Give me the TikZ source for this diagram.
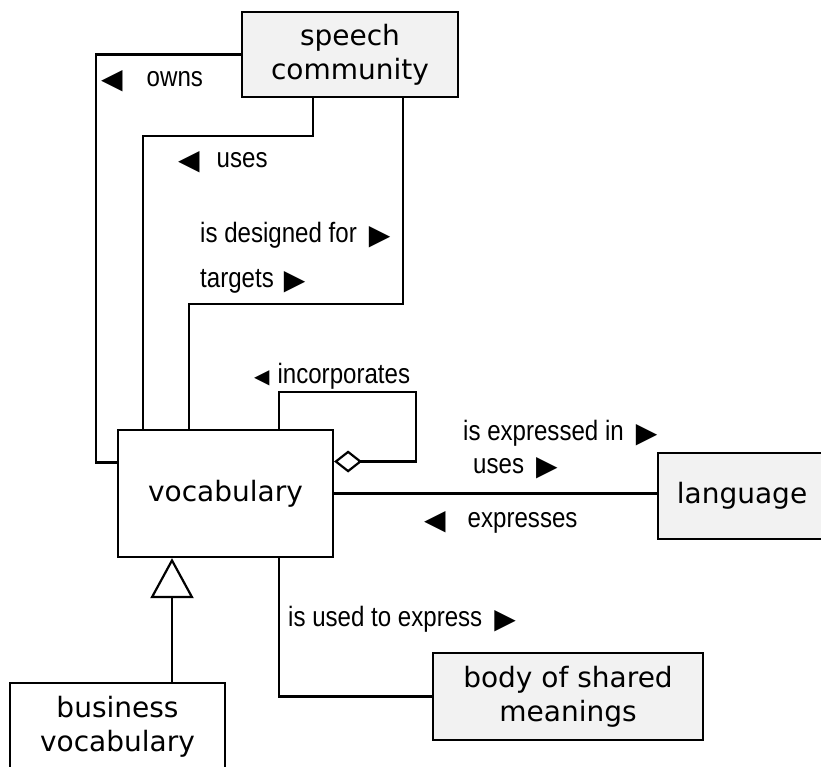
\documentclass[tikz,border=0pt]{standalone}
\usepackage{fontspec}
\setmainfont{DejaVu Sans}
\newfontfamily\rolefont[FakeStretch=0.86]{Liberation Sans}
\newfontfamily\ptrfont{DejaVu Sans}
\usetikzlibrary{arrows.meta}
\newcommand{\lpt}{\raisebox{-2pt}{\ptrfont\fontsize{28}{28}\selectfont\char"25C0}}
\newcommand{\rpt}{\raisebox{-2pt}{\ptrfont\fontsize{28}{28}\selectfont\char"25B6}}
\tikzset{
    classbox/.style={rectangle,draw,line width=2.2pt,fill=white,align=center,font=\fontsize{28}{34}\selectfont},
    sharedbox/.style={classbox,fill=black!5},
    assocline/.style={line width=2.2pt},
    aggrline/.style={assocline,-{Diamond[open,length=28pt,width=22pt]}},
    genline/.style={assocline,-{Triangle[open,length=40pt,width=43pt]}},
    rolelabel/.style={anchor=base west,inner sep=0pt,font=\rolefont\fontsize{28}{30}\selectfont}
}

\begin{document}
\begin{tikzpicture}[x=1pt,y=-1pt]
    \useasboundingbox (0,0) rectangle (821,766);
    % classes
    \node[sharedbox,minimum width=216pt,minimum height=85pt] (spc) at (350,54.5) {speech\\community};
    \node[classbox,minimum width=215pt,minimum height=127pt] (vocab) at (225.5,493.5) {vocabulary};
    \node[sharedbox,minimum width=168pt,minimum height=86pt] (lang) at (742,496) {language};
    \node[sharedbox,minimum width=270pt,minimum height=87pt] (body) at (568,696.5) {body of shared\\meanings};
    \node[classbox,minimum width=215pt,minimum height=88pt] (bus) at (117.5,727) {business\\vocabulary};
    % associations
    \draw[assocline] (spc.west) -| ([xshift=-21pt,yshift=31pt]vocab.west) -- ([yshift=31pt]vocab.west);
    \draw[assocline] ([xshift=-37pt]spc.south) -- ++(0,38) -| ([xshift=-82.5pt]vocab.north);
    \draw[assocline] ([xshift=53pt]spc.south) -- ++(0,206) -| ([xshift=-36.5pt]vocab.north);
    \draw[aggrline] ([xshift=53.5pt]vocab.north) -- ++(0,-37) -- ++(137,0) |- ([yshift=32pt]vocab.east);
    \draw[assocline] (vocab.east) -- (vocab.east -| lang.west);
    \draw[assocline] ([xshift=53.5pt]vocab.south) |- (body.west);
    \draw[genline] ([xshift=54.5pt]bus.north) -- ([xshift=-53.5pt]vocab.south);
    % role names
    \node[rolelabel] (owns) at (101,86) {\lpt\hspace{24pt}owns};
    \node[rolelabel] (uses) at (178,167) {\lpt\hspace{17pt}uses};
    \node[rolelabel] (designed) at (200,242) {is designed for\hspace{12pt}\rpt};
    \node[rolelabel] (targets) at (200,287) {targets\hspace{10pt}\rpt};
    \node[rolelabel] (incorp) at (254,383) {{\ptrfont\fontsize{20}{20}\selectfont\char"25C0}\hspace{8pt}incorporates};
    \node[rolelabel] (expressedin) at (463,440) {is expressed in\hspace{12pt}\rpt};
    \node[rolelabel] (usesl) at (473,473) {uses\hspace{12pt}\rpt};
    \node[rolelabel] (expresses) at (424,527) {\lpt\hspace{22pt}expresses};
    \node[rolelabel] (usedto) at (288,626) {is used to express\hspace{12pt}\rpt};
\end{tikzpicture}
\end{document}
